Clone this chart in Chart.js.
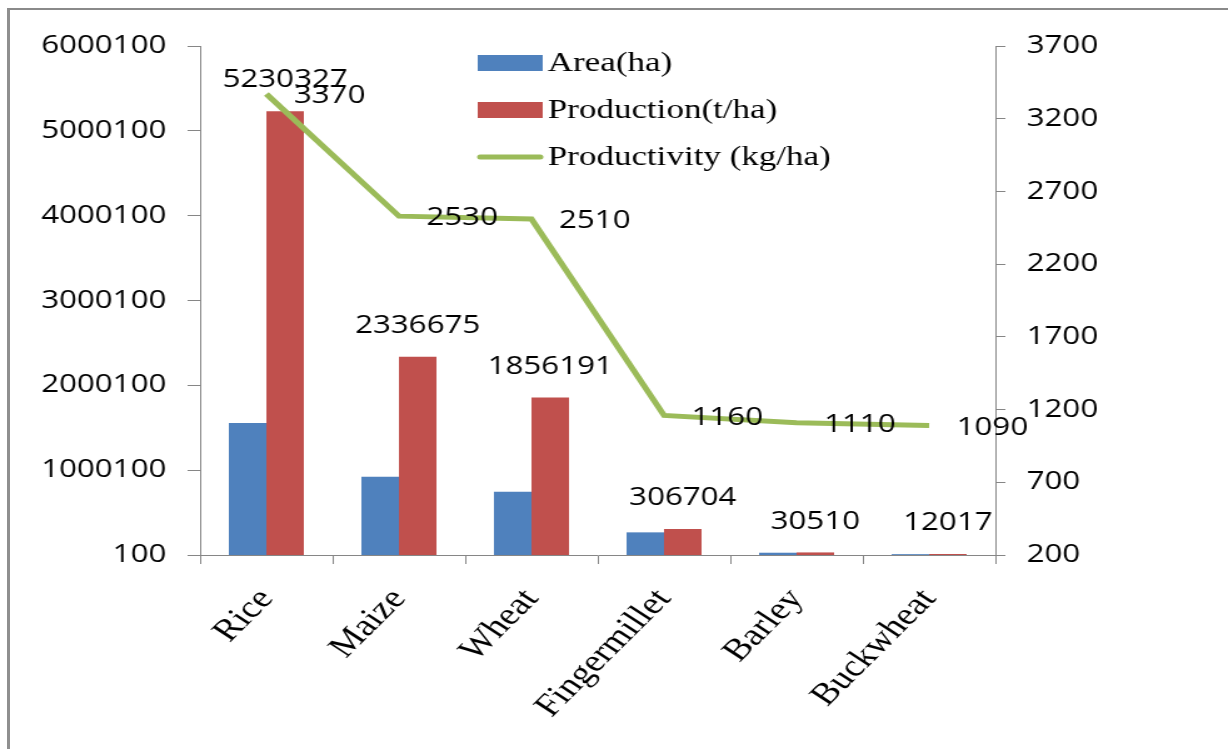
<!DOCTYPE html>
<html>
<head>
<meta charset="utf-8">
<title>Area, production and productivity</title>
<script src="https://cdn.jsdelivr.net/npm/chart.js@4.4.1/dist/chart.umd.min.js"></script>
<style>
  html, body { margin: 0; padding: 0; background: #fff; }
  #wrap { position: relative; width: 1228px; height: 749px; overflow: hidden; }
  #frame {
    position: absolute; left: 7px; top: 8px; right: -10px; bottom: -10px;
    border-top: 2px solid #8a8a8a; border-left: 3px solid #8f8f8f;
    pointer-events: none;
  }
  #chart { position: absolute; left: 0; top: 0; }
</style>
</head>
<body>
<div id="wrap">
  <!-- canvas is drawn narrower and stretched sideways, like the source image -->
  <canvas id="chart" width="982" height="749" style="width:1228px;height:749px"></canvas>
  <div id="frame"></div>
</div>
<script>
  // --- data ---
  const crops = ['Rice', 'Maize', 'Wheat', 'Fingermillet', 'Barley', 'Buckwheat'];
  const areaHa = [1556000, 923000, 746000, 267000, 27000, 10000];
  const productionT = [5230327, 2336675, 1856191, 306704, 30510, 12017];
  const productivityKg = [3370, 2530, 2510, 1160, 1110, 1090];

  const leftTicks = [100, 1000100, 2000100, 3000100, 4000100, 5000100, 6000100];
  const rightTicks = [200, 700, 1200, 1700, 2200, 2700, 3200, 3700];

  const colors = {
    area: '#4F81BD',
    production: '#C0504D',
    productivity: '#9BBB59',
    axis: '#868686'
  };

  const numFont = { family: "'Open Sans', sans-serif", size: 25 };
  const serifFont = "'Liberation Serif', 'Times New Roman', serif";

  // value labels: production above the red bars, productivity right of the line
  const valueLabels = {
    id: 'valueLabels',
    afterDatasetsDraw(chart) {
      const ctx = chart.ctx;
      ctx.save();
      ctx.font = numFont.size + 'px ' + numFont.family;
      ctx.fillStyle = '#000';
      ctx.textBaseline = 'middle';

      const prodMeta = chart.getDatasetMeta(1);
      ctx.textAlign = 'center';
      prodMeta.data.forEach((bar, i) => {
        ctx.fillText(String(productionT[i]), bar.x, bar.y - 31);
      });

      const lineMeta = chart.getDatasetMeta(2);
      ctx.textAlign = 'left';
      lineMeta.data.forEach((pt, i) => {
        ctx.fillText(String(productivityKg[i]), pt.x + 22, pt.y + 2);
      });
      ctx.restore();
    }
  };

  // legend sitting inside the plot, as in the original
  const insideLegend = {
    id: 'insideLegend',
    afterDraw(chart) {
      const ctx = chart.ctx;
      const boxX = 382, boxW = 52, boxH = 16;
      const rows = [63, 110, 157];
      ctx.save();
      ctx.font = '28px ' + serifFont;
      ctx.fillStyle = '#000';
      ctx.textBaseline = 'middle';
      ctx.textAlign = 'left';
      chart.data.datasets.forEach((ds, i) => {
        const y = rows[i];
        if (ds.type === 'line') {
          ctx.strokeStyle = ds.borderColor;
          ctx.lineWidth = 5;
          ctx.lineCap = 'round';
          ctx.beginPath();
          ctx.moveTo(boxX + 2, y);
          ctx.lineTo(boxX + boxW - 2, y);
          ctx.stroke();
        } else {
          ctx.fillStyle = ds.backgroundColor;
          ctx.fillRect(boxX, y - boxH / 2, boxW, boxH);
        }
        ctx.fillStyle = '#000';
        ctx.fillText(ds.label, boxX + boxW + 4, y + 1);
      });
      ctx.restore();
    }
  };

  new Chart(document.getElementById('chart'), {
    data: {
      labels: crops,
      datasets: [
        {
          type: 'bar',
          label: 'Area(ha)',
          data: areaHa,
          backgroundColor: colors.area,
          yAxisID: 'y',
          order: 2,
          categoryPercentage: 0.566,
          barPercentage: 1
        },
        {
          type: 'bar',
          label: 'Production(t/ha)',
          data: productionT,
          backgroundColor: colors.production,
          yAxisID: 'y',
          order: 2,
          categoryPercentage: 0.566,
          barPercentage: 1
        },
        {
          type: 'line',
          label: 'Productivity (kg/ha)',
          data: productivityKg,
          borderColor: colors.productivity,
          backgroundColor: colors.productivity,
          borderWidth: 5,
          pointRadius: 0,
          tension: 0,
          yAxisID: 'y1',
          order: 1
        }
      ]
    },
    options: {
      responsive: false,
      devicePixelRatio: 1,
      animation: false,
      layout: { padding: { top: 46, left: 0, right: 0, bottom: 0 } },
      plugins: {
        legend: { display: false },
        tooltip: { enabled: false }
      },
      scales: {
        x: {
          grid: {
            drawOnChartArea: false,
            color: colors.axis,
            tickLength: 9
          },
          border: { color: colors.axis, width: 1 },
          ticks: {
            color: '#000',
            font: { family: serifFont, size: 31 },
            minRotation: 51,
            maxRotation: 51,
            padding: 18,
            autoSkip: false
          },
          afterFit(scale) { scale.height = 194; }
        },
        y: {
          position: 'left',
          min: 100,
          max: 6000100,
          grid: {
            drawOnChartArea: false,
            color: colors.axis,
            tickLength: 10
          },
          border: { color: colors.axis, width: 1 },
          ticks: {
            color: '#000',
            font: numFont,
            padding: 17,
            callback: (v) => String(v)
          },
          afterBuildTicks(axis) { axis.ticks = leftTicks.map(v => ({ value: v })); },
          afterFit(scale) { scale.width = 160; }
        },
        y1: {
          position: 'right',
          min: 200,
          max: 3700,
          grid: {
            drawOnChartArea: false,
            color: colors.axis,
            tickLength: 8
          },
          border: { color: colors.axis, width: 1 },
          ticks: {
            color: '#000',
            font: numFont,
            padding: 17,
            callback: (v) => String(v)
          },
          afterBuildTicks(axis) { axis.ticks = rightTicks.map(v => ({ value: v })); },
          afterFit(scale) { scale.width = 186; }
        }
      }
    },
    plugins: [valueLabels, insideLegend]
  });
</script>
</body>
</html>
